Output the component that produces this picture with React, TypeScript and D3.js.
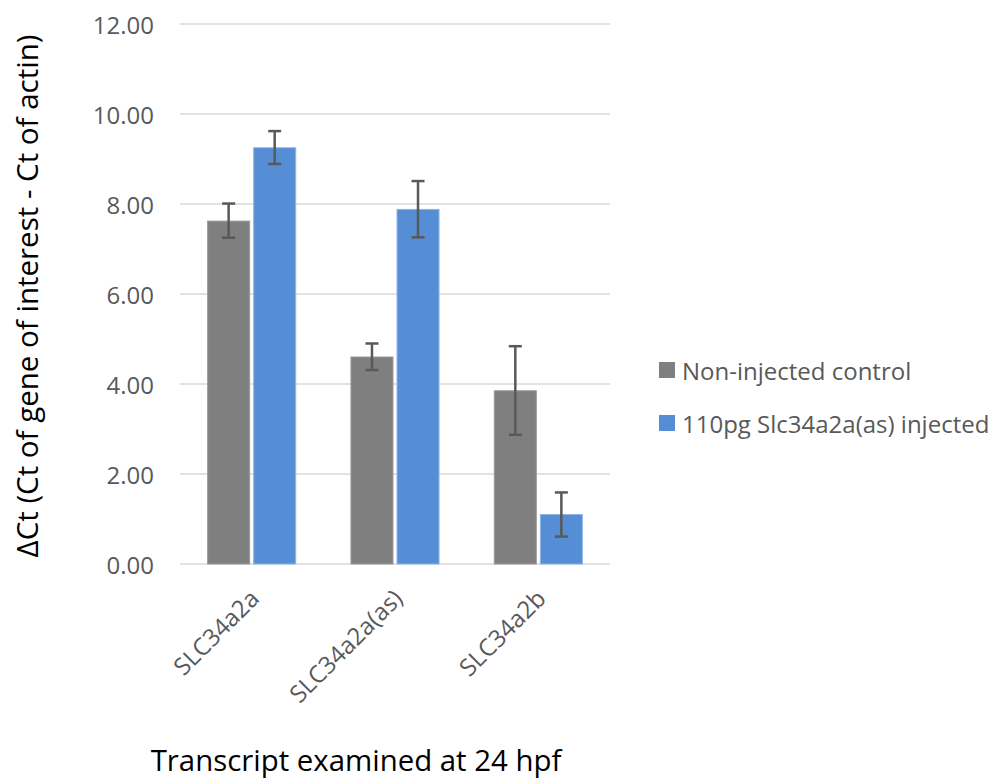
import React from "react";
import * as d3 from "d3";

const categories = ["SLC34a2a", "SLC34a2a(as)", "SLC34a2b"];
const seriesNames = ["Non-injected control", "110pg Slc34a2a(as) injected"];
const controlValues = [7.62, 4.6, 3.85];
const injectedValues = [9.25, 7.88, 1.1];
const controlErrLow = [7.25, 4.31, 2.87];
const controlErrHigh = [8.01, 4.9, 4.84];
const injectedErrLow = [8.89, 7.26, 0.61];
const injectedErrHigh = [9.62, 8.51, 1.59];
const yTicks = [0, 2, 4, 6, 8, 10, 12];
const colors = ["#7f7f7f", "#558ed5"];
const strokeColors = ["#9a9a9a", "#8fb5e6"];

const W = 995;
const H = 780;
const plot = { left: 180, right: 610, top: 24, bottom: 564 };
const FONT = "'Open Sans', 'Segoe UI', sans-serif";

export default function App() {
  const x0 = d3.scaleBand<string>().domain(categories).range([plot.left, plot.right]).padding(0);
  const x1 = d3
    .scaleBand<string>()
    .domain(seriesNames)
    .range([0, x0.bandwidth()])
    .paddingInner(0.087)
    .paddingOuter(0.6);
  const y = d3.scaleLinear().domain([0, 12]).range([plot.bottom, plot.top]);

  const series = [
    { name: seriesNames[0], values: controlValues, lo: controlErrLow, hi: controlErrHigh },
    { name: seriesNames[1], values: injectedValues, lo: injectedErrLow, hi: injectedErrHigh },
  ];

  const cap = 13;

  return (
    <svg
      width={W}
      height={H}
      style={{ position: "absolute", left: 0, top: 0, background: "#fff" }}
      fontFamily={FONT}
    >
      {yTicks.map((t) => (
        <g key={t}>
          <line
            x1={plot.left}
            x2={plot.right}
            y1={y(t)}
            y2={y(t)}
            stroke="#d9d9d9"
            strokeWidth={1.5}
          />
          <text
            x={154}
            y={y(t)}
            textAnchor="end"
            dominantBaseline="central"
            fontSize={24}
            fill="#595959"
          >
            {d3.format(".2f")(t)}
          </text>
        </g>
      ))}

      {series.map((s, si) =>
        categories.map((c, ci) => {
          const bx = (x0(c) ?? 0) + (x1(s.name) ?? 0);
          const bw = x1.bandwidth();
          const cx = bx + bw / 2;
          return (
            <g key={s.name + c}>
              <rect
                x={bx}
                y={y(s.values[ci])}
                width={bw}
                height={y(0) - y(s.values[ci])}
                fill={colors[si]}
                stroke={strokeColors[si]}
                strokeWidth={1}
              />
              <line x1={cx} x2={cx} y1={y(s.lo[ci])} y2={y(s.hi[ci])} stroke="#595959" strokeWidth={2.5} />
              <line x1={cx - cap / 2} x2={cx + cap / 2} y1={y(s.lo[ci])} y2={y(s.lo[ci])} stroke="#595959" strokeWidth={2.5} />
              <line x1={cx - cap / 2} x2={cx + cap / 2} y1={y(s.hi[ci])} y2={y(s.hi[ci])} stroke="#595959" strokeWidth={2.5} />
            </g>
          );
        })
      )}

      {categories.map((c) => {
        const cx = (x0(c) ?? 0) + x0.bandwidth() / 2;
        return (
          <text
            key={c}
            transform={`translate(${cx + 9},${600}) rotate(-45)`}
            textAnchor="end"
            fontSize={24}
            fill="#595959"
          >
            {c}
          </text>
        );
      })}

      <text
        transform={`translate(${38},${296}) rotate(-90)`}
        textAnchor="middle"
        fontSize={29.5}
        fill="#000"
      >
        ΔCt (Ct of gene of interest - Ct of actin)
      </text>

      <text x={356} y={771} textAnchor="middle" fontSize={29.4} fill="#000">
        Transcript examined at 24 hpf
      </text>

      {seriesNames.map((n, i) => (
        <g key={n} transform={`translate(659,${362 + i * 53})`}>
          <rect x={0} y={0} width={16} height={16} fill={colors[i]} />
          <text x={23} y={8} dominantBaseline="central" fontSize={24} fill="#595959">
            {n}
          </text>
        </g>
      ))}
    </svg>
  );
}
